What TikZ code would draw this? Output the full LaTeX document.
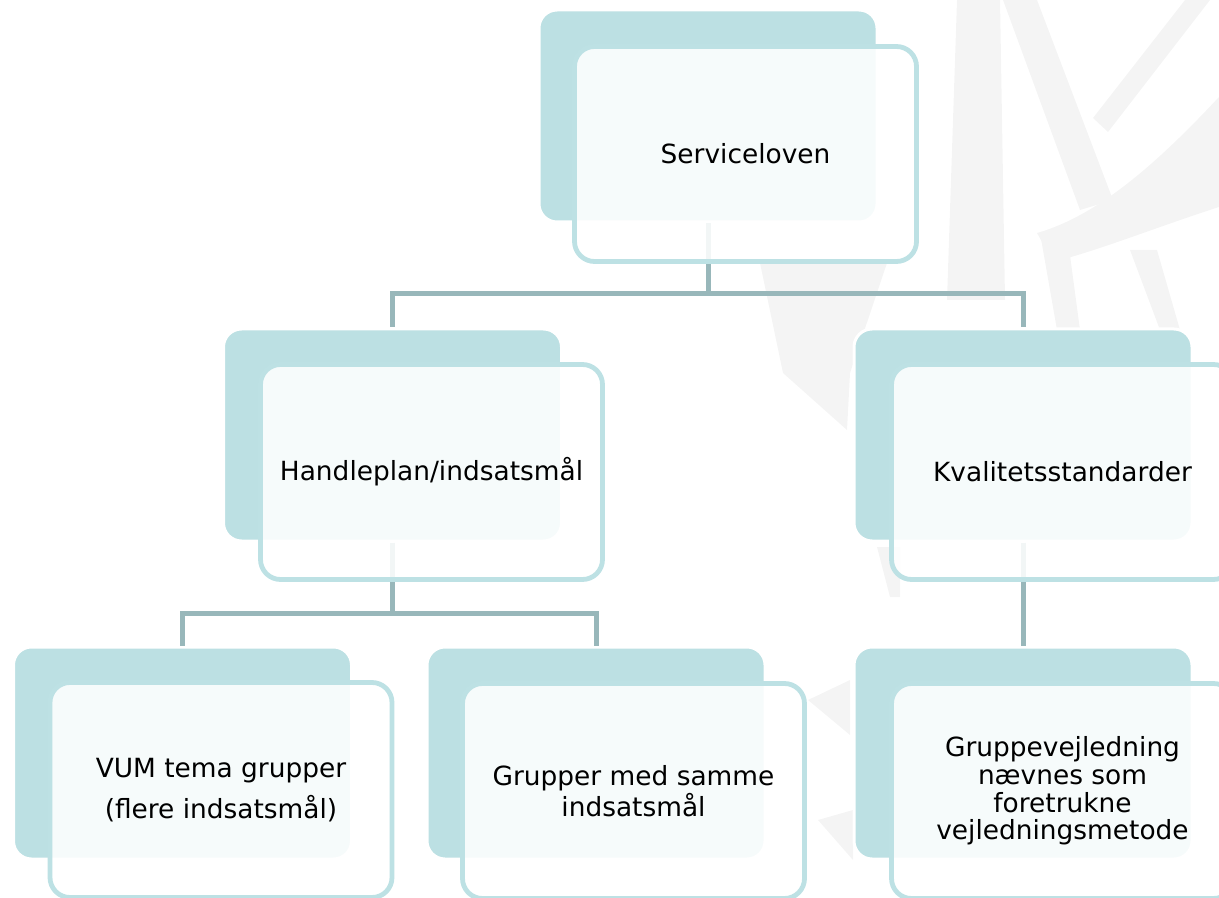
\documentclass[tikz,border=0pt]{standalone}
\usepackage{fontspec}
\setmainfont{DejaVu Sans}
\usetikzlibrary{positioning}
\definecolor{backteal}{RGB}{188,224,227}
\definecolor{rimteal}{RGB}{189,225,228}
\definecolor{linkgray}{RGB}{152,183,186}
\definecolor{wmgray}{RGB}{244,244,244}
\tikzstyle{backbox} = [rectangle, rounded corners=9pt, fill=backteal, draw=white, line width=1.5pt, minimum width=169pt, minimum height=106pt]
\tikzstyle{frontbox} = [rectangle, rounded corners=10pt, draw=rimteal, line width=2.4pt, fill=white, fill opacity=0.88, text opacity=1, minimum width=171pt, minimum height=107.5pt, align=center, font=\fontsize{13.2}{13.9}\selectfont]
\tikzstyle{link} = [draw, line width=2.5pt, color=linkgray, -]
\tikzstyle{wm} = [color=wmgray, fill=wmgray]

\begin{document}
\begin{tikzpicture} [x=0.5pt, y=-0.5pt]

  \useasboundingbox (0,0) rectangle (1219,898);

  % faint logo in the background
  \fill[wm] (957,0) -- (1000,0) -- (1005,300) -- (947,300) -- cycle;
  \fill[wm] (1003,0) -- (1037,0) -- (1113,200) -- (1080,210) -- cycle;
  \fill[wm] (1185,0) -- (1210,0) -- (1108,132) -- (1093,118) -- cycle;
  \fill[wm] (1037,233) .. controls (1100,215) and (1160,160) .. (1219,97) -- (1219,207) .. controls (1157,227) and (1100,250) .. (1053,262) -- cycle;
  \fill[wm] (1040,233) -- (1067,233) -- (1080,330) -- (1057,330) -- cycle;
  \fill[wm] (1130,250) -- (1157,250) -- (1180,330) -- (1160,330) -- cycle;
  \fill[wm] (760,263) -- (887,263) -- (850,373) -- (847,430) -- (783,373) -- cycle;
  \fill[wm] (877,547) -- (900,547) -- (900,597) -- (890,597) -- cycle;
  \fill[wm] (808,700) -- (850,680) -- (850,735) -- cycle;
  \fill[wm] (818,820) -- (853,810) -- (853,860) -- cycle;

  % back boxes
  \node[backbox] (servB) at (708,116) {};
  \node[backbox] (handB) at (392.5,435) {};
  \node[backbox] (kvalB) at (1023,435) {};
  \node[backbox] (vumB) at (182.5,753) {};
  \node[backbox] (grpB) at (596,753) {};
  \node[backbox] (gvB) at (1023,753) {};

  % connectors
  \draw[link] (servB.south) -- ++(0,70) -| (handB.north);
  \draw[link] (servB.south) ++(0,70) -| (kvalB.north);
  \draw[link] (handB.south) -- ++(0,71) -| (vumB.north);
  \draw[link] (handB.south) ++(0,71) -| (grpB.north);
  \draw[link] (kvalB.south) -- (gvB.north);

  % front boxes with the texts
  \node[frontbox] (serv) at ([shift={(37.5,38)}]servB) {Serviceloven};
  \node[frontbox] (hand) at ([shift={(39,37)}]handB) {Handleplan/indsatsmål};
  \node[frontbox] (kval) at ([shift={(39.5,37)}]kvalB) {Kvalitetsstandarder};
  \node[frontbox] (vum) at ([shift={(38.5,37)}]vumB) {VUM tema grupper\\[5pt](flere indsatsmål)};
  \node[frontbox] (grp) at ([shift={(37.5,38)}]grpB) {Grupper med samme\\indsatsmål};
  \node[frontbox] (gv) at ([shift={(39.5,38)}]gvB) {Gruppevejledning\\nævnes som\\foretrukne\\vejledningsmetode};

\end{tikzpicture}
\end{document}
